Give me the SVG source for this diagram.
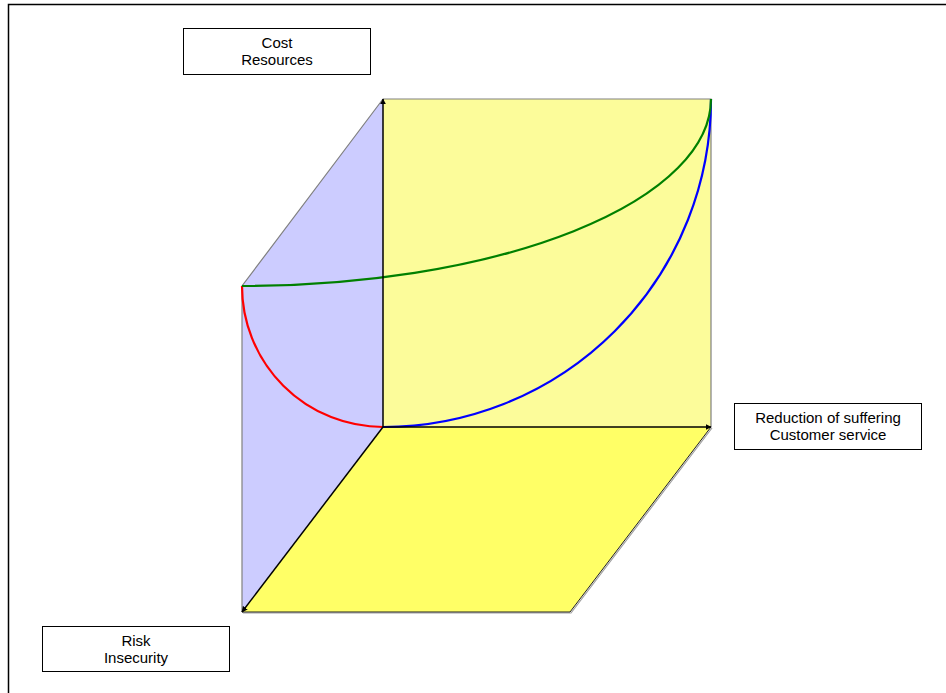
<svg xmlns="http://www.w3.org/2000/svg" width="946" height="693" viewBox="0 0 946 693">
  <style>
    .box { fill: #ffffff; stroke: #000000; stroke-width: 1; }
    .lbl { font-family: "Liberation Sans", Arial, sans-serif; font-size: 15px; fill: #000000; text-anchor: middle; }
    .edge { stroke: #808080; stroke-width: 1.2; fill: none; }
    .axis { stroke: #000000; stroke-width: 1.5; fill: none; marker-end: url(#arrow); }
    .curve { fill: none; stroke-width: 2.2; }
  </style>
  <defs>
    <marker id="arrow" viewBox="0 0 10 10" refX="9" refY="5" markerWidth="6" markerHeight="6" markerUnits="userSpaceOnUse" orient="auto">
      <path d="M0,0 L10,5 L0,10 z" fill="#000000"/>
    </marker>
  </defs>

  <!-- frame -->
  <path d="M8.5,693 V4.5 H946" fill="none" stroke="#000000" stroke-width="1.5"/>

  <!-- planes -->
  <g id="back-plane">
    <rect x="383" y="99" width="328" height="328" fill="#FCFC9A"/>
    <path class="edge" d="M383,99 H711 V427"/>
  </g>
  <g id="side-plane">
    <polygon points="242,286 383,99 383,427 242,612" fill="#CCCCFF"/>
    <path class="edge" d="M242,612 V286 L383,99"/>
  </g>
  <g id="floor-plane">
    <polygon points="383,427 711,427 570,612 242,612" fill="#FFFF66"/>
    <path d="M243,613 H571 L712,428" fill="none" stroke="#a0a0a0" stroke-width="1.2"/>
    <path d="M242,612 H570 L711,427" fill="none" stroke="#202020" stroke-width="1"/>
  </g>

  <!-- curves -->
  <g id="curves">
    <path class="curve" stroke="#FF0000" d="M242,286 A141,141 0 0 0 383,427"/>
    <path class="curve" stroke="#0000FF" d="M383,427 A328,328 0 0 0 711,99"/>
    <path class="curve" stroke="#008000" d="M242,286 A469,187 0 0 0 711,99"/>
  </g>

  <!-- axes -->
  <g id="connectors">
    <line class="axis" x1="383" y1="427" x2="383" y2="99"/>
    <line class="axis" x1="383" y1="427" x2="711" y2="427"/>
    <line class="axis" x1="383" y1="427" x2="242" y2="612"/>
  </g>

  <!-- axis labels -->
  <g id="label-cost">
    <rect class="box" x="183.5" y="28.5" width="187" height="46"/>
    <text class="lbl" x="277" y="48">Cost</text>
    <text class="lbl" x="277" y="65">Resources</text>
  </g>
  <g id="label-service">
    <rect class="box" x="734.5" y="403.5" width="187" height="46"/>
    <text class="lbl" x="828" y="423">Reduction of suffering</text>
    <text class="lbl" x="828" y="440">Customer service</text>
  </g>
  <g id="label-risk">
    <rect class="box" x="42.5" y="626.5" width="187" height="45"/>
    <text class="lbl" x="136" y="646">Risk</text>
    <text class="lbl" x="136" y="663">Insecurity</text>
  </g>
</svg>
